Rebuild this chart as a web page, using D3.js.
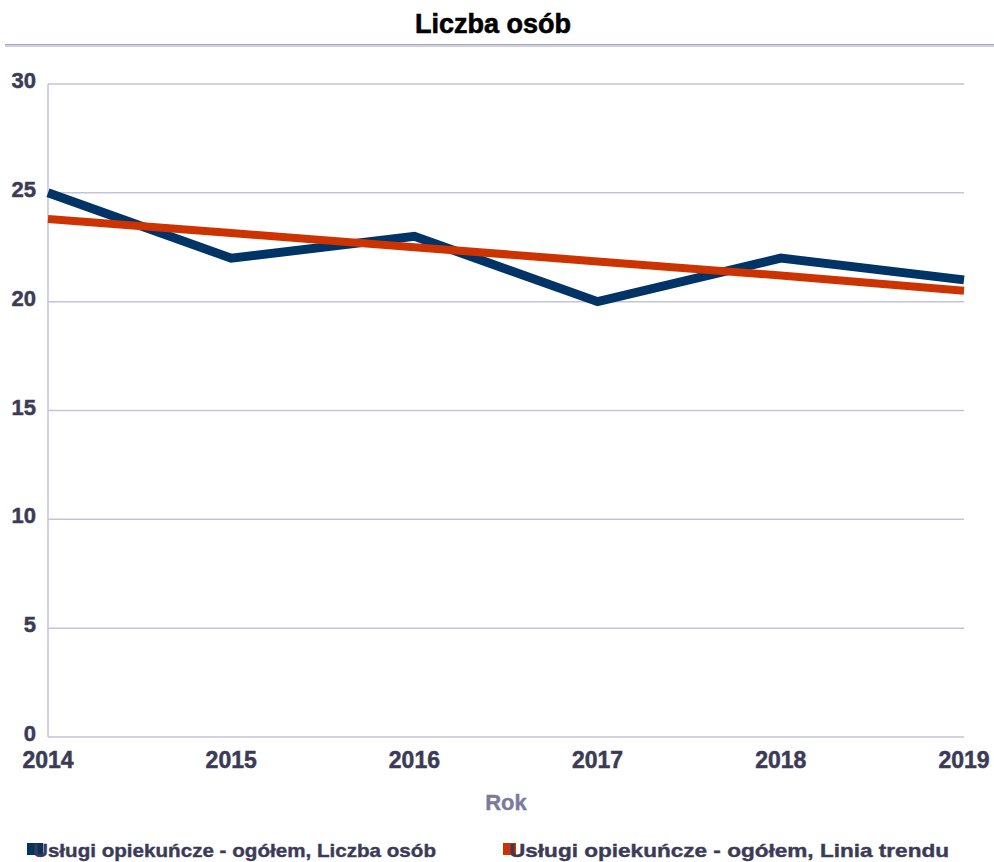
<!DOCTYPE html>
<html>
<head>
<meta charset="utf-8">
<script src="https://cdn.jsdelivr.net/npm/d3@7"></script>
<style>
  body { margin: 0; background: #fff; }
  svg { display: block; font-family: "Liberation Sans", Arial, sans-serif; }
</style>
</head>
<body>
<svg id="chart" width="994" height="862"></svg>
<script>
// data
var years = ['2014', '2015', '2016', '2017', '2018', '2019'];
var osoby = [25, 22, 23, 20, 22, 21];
var trend = [23.8, 23.15, 22.5, 21.85, 21.2, 20.5];
var yTicks = [0, 5, 10, 15, 20, 25, 30];
var seriesNames = ['Usługi opiekuńcze - ogółem, Liczba osób', 'Usługi opiekuńcze - ogółem, Linia trendu'];
var seriesColors = ['#003366', '#cc3300'];

var svg = d3.select('#chart');
var margin = {left: 48, right: 30, top: 84, bottom: 125};
var width = 994 - margin.left - margin.right;
var height = 862 - margin.top - margin.bottom;

var x = d3.scalePoint().domain(years).range([0, width]);
var y = d3.scaleLinear().domain([0, 30]).range([height, 0]);

var textColor = '#3b3b58';
var gridColor = '#c3c3d9';

// title
svg.append('text')
    .attr('x', 493).attr('y', 33)
    .attr('text-anchor', 'middle')
    .style('font-size', '27px')
    .style('font-weight', 'bold')
    .attr('fill', '#000')
    .attr('stroke', '#000').attr('stroke-width', 0.6)
    .text('Liczba osób');

svg.append('line')
    .attr('x1', 5).attr('x2', 994).attr('y1', 45.5).attr('y2', 45.5)
    .attr('stroke', '#cfcfe0').attr('stroke-width', 3);
svg.append('line')
    .attr('x1', 5).attr('x2', 994).attr('y1', 44.5).attr('y2', 44.5)
    .attr('stroke', '#a8a8bc').attr('stroke-width', 1);

var g = svg.append('g')
    .attr('transform', 'translate(' + margin.left + ',' + margin.top + ')');

// grid
g.selectAll('.grid')
    .data(yTicks)
  .enter().append('line')
    .attr('class', 'grid')
    .attr('x1', 0).attr('x2', width)
    .attr('y1', function (d) { return y(d); })
    .attr('y2', function (d) { return y(d); })
    .attr('stroke', gridColor).attr('stroke-width', 1.5);

g.append('line')
    .attr('x1', 0).attr('x2', 0).attr('y1', 0).attr('y2', height)
    .attr('stroke', gridColor).attr('stroke-width', 1.5);

// y labels
g.selectAll('.ylab')
    .data(yTicks)
  .enter().append('text')
    .attr('class', 'ylab')
    .attr('x', -12)
    .attr('y', function (d) { return y(d) + 4; })
    .attr('text-anchor', 'end')
    .style('font-size', '22px').style('font-weight', 'bold')
    .attr('fill', textColor)
    .attr('stroke', textColor).attr('stroke-width', 0.5)
    .text(function (d) { return d; });

// x labels
g.selectAll('.xlab')
    .data(years)
  .enter().append('text')
    .attr('class', 'xlab')
    .attr('x', function (d) { return x(d); })
    .attr('y', height + 31)
    .attr('text-anchor', 'middle')
    .style('font-size', '23px').style('font-weight', 'bold')
    .attr('fill', textColor)
    .attr('stroke', textColor).attr('stroke-width', 0.5)
    .text(function (d) { return d; });

svg.append('text')
    .attr('x', 506).attr('y', 810)
    .attr('text-anchor', 'middle')
    .style('font-size', '22px').style('font-weight', 'bold')
    .attr('fill', '#7a7a9c')
    .attr('stroke', '#7a7a9c').attr('stroke-width', 0.4)
    .text('Rok');

// lines
var line = d3.line()
    .x(function (d, i) { return x(years[i]); })
    .y(function (d) { return y(d); });

g.append('path')
    .datum(osoby)
    .attr('d', line)
    .attr('fill', 'none')
    .attr('stroke', seriesColors[0])
    .attr('stroke-width', 9)
    .attr('stroke-linejoin', 'miter');

g.append('path')
    .datum(trend)
    .attr('d', line)
    .attr('fill', 'none')
    .attr('stroke', seriesColors[1])
    .attr('stroke-width', 8);

// legend
var legendX = [27, 503];
var legend = svg.selectAll('.entry')
    .data(seriesNames)
  .enter().append('g')
    .attr('class', 'entry')
    .attr('transform', function (d, i) { return 'translate(' + legendX[i] + ',843)'; });

legend.append('rect')
    .attr('width', function (d, i) { return i === 0 ? 16 : 13; })
    .attr('height', 12)
    .attr('fill', function (d, i) { return seriesColors[i]; });

legend.append('text')
    .attr('x', 6)
    .attr('y', 14)
    .style('font-size', '19px').style('font-weight', 'bold')
    .attr('fill', textColor)
    .attr('stroke', textColor).attr('stroke-width', 0.4)
    .attr('textLength', function (d, i) { return i === 0 ? 403 : 440; })
    .attr('lengthAdjust', 'spacingAndGlyphs')
    .text(function (d) { return d; });
</script>
</body>
</html>
